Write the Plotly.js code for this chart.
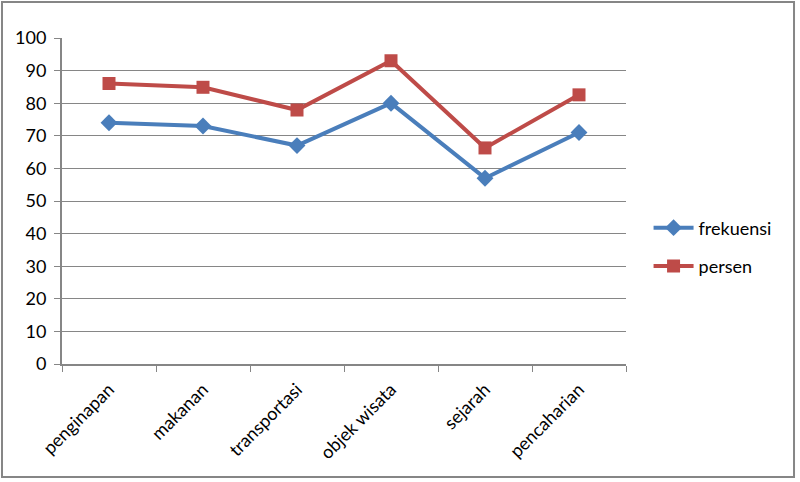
<!DOCTYPE html>
<html>
<head>
<meta charset="utf-8">
<script src="https://cdn.plot.ly/plotly-3.0.1.min.js"></script>
<style>html,body{margin:0;padding:0;background:#fff}#chart{width:800px;height:482px}</style>
</head>
<body>
<div id="chart"></div>
<script>
var categories = ["penginapan", "makanan", "transportasi", "objek wisata", "sejarah", "pencaharian"];
var frekuensi = [74, 73, 67, 80, 57, 71];
var persen = [86.05, 84.88, 77.91, 93.02, 66.28, 82.56];
var yTicks = [0, 10, 20, 30, 40, 50, 60, 70, 80, 90, 100];

var font = "Lato, 'Open Sans', sans-serif";
var traces = [
  {x: categories, y: frekuensi, name: "frekuensi", type: "scatter", mode: "lines+markers", legendgroup: "a",
   line: {color: "#4A7EBB", width: 4}, marker: {symbol: "diamond", size: 13, color: "#4A7EBB"}},
  {x: categories, y: persen, name: "persen", type: "scatter", mode: "lines+markers", legendgroup: "b",
   line: {color: "#BE4B48", width: 4}, marker: {symbol: "square", size: 13, color: "#BE4B48"}}
];
var layout = {
  width: 800, height: 482,
  margin: {l: 62, r: 174, t: 38, b: 118},
  paper_bgcolor: "#fff", plot_bgcolor: "#fff",
  font: {family: font, size: 18, color: "#000"},
  showlegend: true,
  legend: {x: 1.04, y: 0.359, yanchor: "middle", xanchor: "left", font: {size: 18},
           itemwidth: 40, tracegroupgap: 12, bgcolor: "rgba(0,0,0,0)"},
  xaxis: {type: "category", range: [-0.5, 5.5], tickson: "boundaries", ticks: "outside",
          ticklen: 6, tickcolor: "#868686", showline: true, linecolor: "#868686", linewidth: 2,
          showgrid: false, tickangle: -45, tickfont: {size: 18}, ticklabelstandoff: 6, fixedrange: true},
  yaxis: {range: [0, 100], tickvals: yTicks, ticks: "outside", ticklen: 6, tickcolor: "#868686",
          showline: true, linecolor: "#868686", linewidth: 2, showgrid: true, gridcolor: "#868686",
          gridwidth: 1, zeroline: false, tickfont: {size: 18}, ticklabelstandoff: 4},
  shapes: [{type: "rect", xref: "paper", yref: "paper",
            x0: -0.1064, x1: 1.2979, y0: -0.3466, y1: 1.1104,
            line: {color: "#868686", width: 2}, fillcolor: "rgba(0,0,0,0)", layer: "below"}]
};
Plotly.newPlot("chart", traces, layout, {displayModeBar: false, staticPlot: true});
</script>
</body>
</html>
